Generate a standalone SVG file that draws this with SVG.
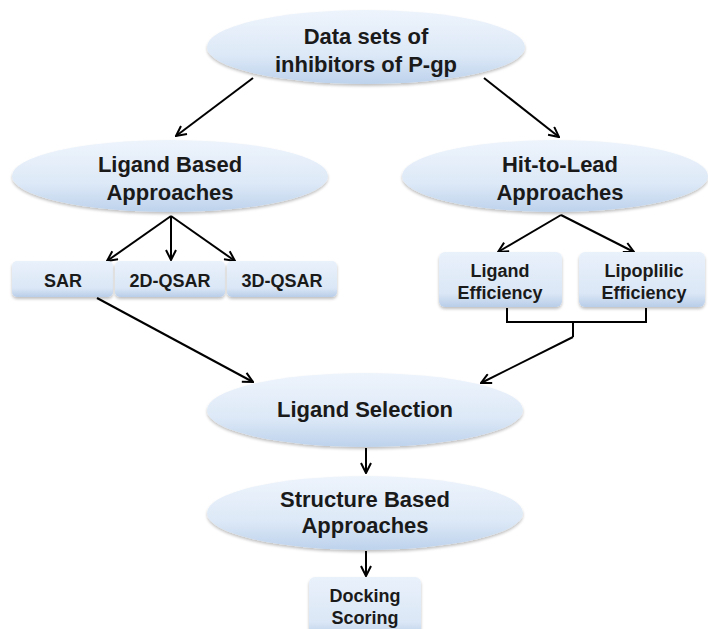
<svg xmlns="http://www.w3.org/2000/svg" width="708" height="629" viewBox="0 0 708 629">
<defs>
<linearGradient id="gEl" x1="0" y1="0" x2="0" y2="1">
<stop offset="0" stop-color="#eef4fc"/>
<stop offset="0.6" stop-color="#dde9f7"/>
<stop offset="1" stop-color="#bdd2ec"/>
</linearGradient>
<linearGradient id="gBox" x1="0" y1="0" x2="0" y2="1">
<stop offset="0" stop-color="#e9f1fb"/>
<stop offset="0.75" stop-color="#dbe7f6"/>
<stop offset="1" stop-color="#b8cde8"/>
</linearGradient>
<filter id="sh" x="-10%" y="-10%" width="120%" height="130%">
<feGaussianBlur in="SourceAlpha" stdDeviation="1.5"/>
<feOffset dx="0" dy="2" result="b"/>
<feComponentTransfer><feFuncA type="linear" slope="0.25"/></feComponentTransfer>
<feMerge><feMergeNode/><feMergeNode in="SourceGraphic"/></feMerge>
</filter>
<marker id="arr" viewBox="0 0 12 12" refX="11" refY="6" markerWidth="12" markerHeight="12" markerUnits="userSpaceOnUse" orient="auto">
<path d="M1,1 L11,6 L1,11" fill="none" stroke="#000" stroke-width="2"/>
</marker>
</defs>
<style>
.el{fill:url(#gEl);filter:url(#sh)}
.bx{fill:url(#gBox);filter:url(#sh)}
.t{font-family:"Liberation Sans",Arial,sans-serif;font-weight:bold;fill:#1a1a1a;text-anchor:middle}
.big{font-size:22px}
.sm{font-size:18px}
.c{fill:none;stroke:#000;stroke-width:2}
</style>
<rect width="708" height="629" fill="#fff"/>
<g id="connectors">
<line class="c" x1="253" y1="78" x2="176" y2="136" marker-end="url(#arr)"/>
<line class="c" x1="484" y1="78" x2="559" y2="137" marker-end="url(#arr)"/>
<line class="c" x1="171" y1="216" x2="107" y2="261" marker-end="url(#arr)"/>
<line class="c" x1="171" y1="216" x2="171" y2="260" marker-end="url(#arr)"/>
<line class="c" x1="171" y1="216" x2="235" y2="261" marker-end="url(#arr)"/>
<line class="c" x1="561" y1="215" x2="498" y2="252" marker-end="url(#arr)"/>
<line class="c" x1="561" y1="215" x2="634" y2="252" marker-end="url(#arr)"/>
<line class="c" x1="97" y1="298" x2="253" y2="382" marker-end="url(#arr)"/>
<path class="c" d="M507,308 V322 H646 V308 M573,322 V337"/>
<line class="c" x1="573" y1="337" x2="481" y2="383" marker-end="url(#arr)"/>
<line class="c" x1="366" y1="448" x2="366" y2="473" marker-end="url(#arr)"/>
<line class="c" x1="366" y1="551" x2="366" y2="576" marker-end="url(#arr)"/>
</g>
<g id="datasets">
<ellipse class="el" cx="366" cy="47" rx="159" ry="37"/>
<text class="t big" x="366" y="44">Data sets of</text>
<text class="t big" x="366" y="72">inhibitors of P-gp</text>
</g>
<g id="ligandbased">
<ellipse class="el" cx="170" cy="176" rx="158" ry="36"/>
<text class="t big" x="170" y="172">Ligand Based</text>
<text class="t big" x="170" y="200">Approaches</text>
</g>
<g id="hittolead">
<ellipse class="el" cx="555" cy="176" rx="153" ry="36"/>
<text class="t big" x="560" y="172">Hit-to-Lead</text>
<text class="t big" x="560" y="200">Approaches</text>
</g>
<g id="sar">
<rect class="bx" x="12" y="261" width="101" height="36" rx="5"/>
<text class="t sm" x="63" y="287">SAR</text>
</g>
<g id="qsar2d">
<rect class="bx" x="115" y="261" width="110" height="36" rx="5"/>
<text class="t sm" x="170" y="287">2D-QSAR</text>
</g>
<g id="qsar3d">
<rect class="bx" x="227" y="261" width="110" height="36" rx="5"/>
<text class="t sm" x="282" y="287">3D-QSAR</text>
</g>
<g id="ligandeff">
<rect class="bx" x="439" y="252" width="123" height="55" rx="6"/>
<text class="t sm" x="500" y="277">Ligand</text>
<text class="t sm" x="500" y="299">Efficiency</text>
</g>
<g id="lipoeff">
<rect class="bx" x="579" y="252" width="126" height="55" rx="6"/>
<text class="t sm" x="644" y="277">Lipoplilic</text>
<text class="t sm" x="644" y="299">Efficiency</text>
</g>
<g id="ligandsel">
<ellipse class="el" cx="365" cy="410" rx="158" ry="37"/>
<text class="t big" x="365" y="417">Ligand Selection</text>
</g>
<g id="structbased">
<ellipse class="el" cx="365" cy="513" rx="158" ry="37"/>
<text class="t big" x="365" y="507">Structure Based</text>
<text class="t big" x="365" y="533">Approaches</text>
</g>
<g id="docking">
<rect class="bx" x="309" y="577" width="112" height="60" rx="6"/>
<text class="t sm" x="365" y="602">Docking</text>
<text class="t sm" x="365" y="624">Scoring</text>
</g>
</svg>
